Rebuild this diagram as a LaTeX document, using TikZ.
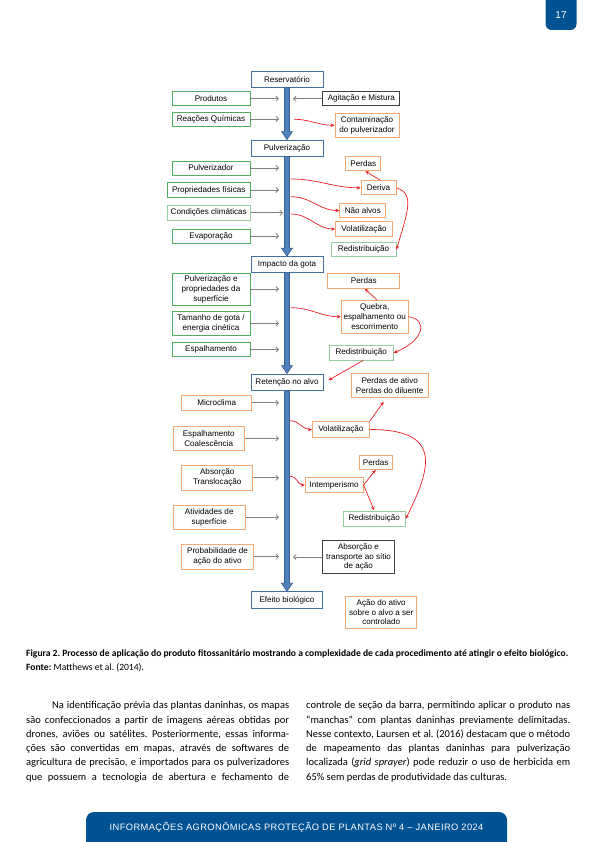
\documentclass[tikz,border=0pt]{standalone}
\usepackage{fontspec}
\setmainfont{Carlito}
\newfontfamily\arialf{Liberation Sans}
\usetikzlibrary{arrows.meta,calc}
\frenchspacing
\definecolor{pageblue}{RGB}{0,82,147}
\definecolor{boxblue}{RGB}{65,113,156}
\definecolor{shaftfill}{RGB}{79,129,189}
\definecolor{shaftdraw}{RGB}{56,93,138}
\definecolor{boxgreen}{RGB}{80,175,95}
\definecolor{boxlgreen}{RGB}{150,205,160}
\definecolor{boxorange}{RGB}{242,168,112}
\definecolor{boxgrey}{RGB}{64,64,64}
\definecolor{arrgrey}{RGB}{128,128,128}
\definecolor{arrred}{RGB}{232,30,36}
\newcommand\drawmainarrow[2]{%
  \path[shaft] let \p1=(#1.south), \p2=(#2.north) in
   (\x1-2.5pt,\y1) -- (\x1+2.5pt,\y1) -- (\x1+2.5pt,\y2+8pt) -- (\x1+5.5pt,\y2+8pt)
   -- (\x1,\y2) -- (\x1-5.5pt,\y2+8pt) -- (\x1-2.5pt,\y2+8pt) -- cycle;}
\begin{document}
\begin{tikzpicture}[x=1pt,y=-1pt,
  box/.style={draw, line width=0.8pt, fill=white, inner sep=1pt, align=center,
    font=\arialf\fontsize{8.1}{9.8}\selectfont, text=black},
  bbox/.style={box, draw=boxblue},
  gbox/.style={box, draw=boxgreen},
  lgbox/.style={box, draw=boxlgreen},
  obox/.style={box, draw=boxorange},
  kbox/.style={box, draw=boxgrey},
  sz/.style 2 args={minimum width=#1pt, minimum height=#2pt},
  garr/.style={draw=arrgrey, line width=0.8pt, -{Straight Barb[length=2.5pt,width=5pt]}},
  rarr/.style={draw=arrred, line width=0.7pt, -{Stealth[length=4pt,width=3.5pt]}},
  shaft/.style={fill=shaftfill, draw=shaftdraw, line width=0.6pt},
  bodyline/.style={anchor=base west, inner sep=0pt, font=\fontsize{10.5}{12}\selectfont},
]
\useasboundingbox (0,0) rectangle (595,842);

% page tab and footer
\path[fill=pageblue, rounded corners=6pt] (545.5,-10) rectangle (576.5,30);
\node[text=white, font=\arialf\fontsize{10}{12}\selectfont] (pnum) at (561,15) {17};
\path[fill=pageblue, rounded corners=8pt] (86,812) rectangle (507,852);
\node[text=white, font=\arialf\fontsize{9.3}{11}\selectfont\addfontfeature{LetterSpace=4.5}] (foot) at (296.5,827.5)
  {INFORMAÇÕES AGRONÔMICAS PROTEÇÃO DE PLANTAS Nº 4 – JANEIRO 2024};

% main column boxes
\node[bbox, sz={72}{16}] (res) at (287,79.5) {Reservatório};
\node[bbox, sz={72}{16}] (pulv) at (287,148) {Pulverização};
\node[bbox, sz={72}{16}] (imp) at (287,264.5) {Impacto da gota};
\node[bbox, sz={72}{16.7}] (ret) at (287,382.3) {Retenção no alvo};
\node[bbox, sz={71}{16.7}] (efe) at (287,600) {Efeito biológico};

\drawmainarrow{res}{pulv}
\drawmainarrow{pulv}{imp}
\drawmainarrow{imp}{ret}
\drawmainarrow{ret}{efe}

\coordinate (tipL) at (279,0);
\coordinate (tipLc) at (283,0);
\coordinate (tipR) at (293,0);

% Reservatorio section
\node[gbox, sz={78}{14}] (prod) at (211,98.7) {Produtos};
\node[kbox, sz={77}{14}] (agit) at (361.3,98.7) {Agitação e Mistura};
\node[gbox, sz={78}{14}] (reac) at (211,119) {Reações Químicas};
\node[obox, sz={64}{24}] (cont) at (367,125.3) {Contaminação\\do pulverizador};
\draw[garr] (prod.east) -- (prod.east -| tipL);
\draw[garr] (agit.west) -- (agit.west -| tipR);
\draw[garr] (reac.east) -- (reac.east -| tipL);
\coordinate (s1) at (294,119.3);
\draw[rarr] (s1) to[out=0,in=180] (cont.west);

% Pulverizacao section
\node[gbox, sz={78}{14}] (pz) at (211,168) {Pulverizador};
\node[gbox, sz={83}{15}] (pf) at (208.7,190) {Propriedades físicas};
\node[lgbox, sz={83}{15.7}] (cc) at (208.7,212.8) {Condições climáticas};
\node[gbox, sz={78}{14}] (ev) at (211,236) {Evaporação};
\draw[garr] (pz.east) -- (pz.east -| tipL);
\draw[garr] (pf.east) -- (pf.east -| tipL);
\draw[garr] (cc.east) -- (cc.east -| tipLc);
\draw[garr] (ev.east) -- (ev.east -| tipL);
\node[obox, sz={35}{14}] (perd1) at (363.3,163.7) {Perdas};
\node[obox, sz={35}{14}] (der) at (378.5,187.8) {Deriva};
\node[obox, sz={46}{14}] (nao) at (362.8,210.5) {Não alvos};
\node[obox, sz={57}{15}] (vol1) at (364,229) {Volatilização};
\node[lgbox, sz={65}{14}] (red1) at (363.5,249.7) {Redistribuição};
\coordinate (s2) at (291,179);
\coordinate (s3) at (291,196.7);
\coordinate (s4) at (291,214);
\draw[rarr] (s2) to[out=0,in=180] (der.west);
\draw[rarr] (s3) to[out=0,in=180] (nao.west);
\draw[rarr] (s4) to[out=0,in=180] (vol1.west);
\draw[rarr] ([xshift=2pt]der.north) -- ([xshift=2pt]perd1.south);
\draw[rarr] (der.east) .. controls +(18,6) and +(12,-40) .. (red1.east);

% Impacto section
\node[gbox, sz={78}{32}] (psup) at (211,289.2) {Pulverização e\\propriedades da\\superfície};
\node[gbox, sz={78}{23.3}] (tam) at (211,323.3) {Tamanho de gota /\\energia cinética};
\node[gbox, sz={78}{14.4}] (esp) at (211,349.5) {Espalhamento};
\draw[garr] (psup.east) -- (psup.east -| tipL);
\draw[garr] (tam.east) -- (tam.east -| tipL);
\draw[garr] (esp.east) -- (esp.east -| tipL);
\node[obox, sz={72}{15}] (perd2) at (363.8,280.8) {Perdas};
\node[obox, sz={67}{33}] (queb) at (374.7,316.7) {Quebra,\\espalhamento ou\\escorrimento};
\node[lgbox, sz={64}{14.4}] (red2) at (361.2,352.8) {Redistribuição};
\coordinate (s5) at (291,307.7);
\draw[rarr] (s5) to[out=0,in=180] (queb.west);
\draw[rarr] ([xshift=2pt]queb.north) -- ([xshift=1pt]perd2.south);
\draw[rarr] (queb.east) .. controls +(20,3) and +(30,-12) .. (red2.east);
\draw[rarr] ([xshift=2pt]red2.south) -- ($(ret.east)+(5,-2)$);

% Retencao section
\node[obox, sz={70}{15.7}] (micro) at (216.7,402.8) {Microclima};
\node[obox, sz={71}{24.7}] (espc) at (208.7,438.3) {Espalhamento\\Coalescência};
\node[obox, sz={71}{24.3}] (abs) at (217.2,477.8) {Absorção\\Translocação};
\node[obox, sz={72}{24.3}] (ativ) at (209.2,517.2) {Atividades de\\superfície};
\node[obox, sz={72}{24.7}] (prob) at (217.5,556.7) {Probabilidade de\\ação do ativo};
\node[kbox, sz={72}{32.7}] (abst) at (358.5,557) {Absorção e\\transporte ao sítio\\de ação};
\draw[garr] (micro.east) -- (micro.east -| tipL);
\draw[garr] (espc.east) -- (espc.east -| tipL);
\draw[garr] (abs.east) -- (abs.east -| tipL);
\draw[garr] (ativ.east) -- (ativ.east -| tipL);
\draw[garr] (prob.east) -- (prob.east -| tipL);
\draw[garr] (abst.west) -- (abst.west -| tipR);
\node[obox, sz={77}{24}] (pa) at (389.7,385.3) {Perdas de ativo\\Perdas do diluente};
\node[obox, sz={57}{15.7}] (vol2) at (340.8,429.5) {Volatilização};
\node[obox, sz={33}{14.3}] (perd3) at (375.7,462.2) {Perdas};
\node[obox, sz={58}{15.3}] (intem) at (334.2,485) {Intemperismo};
\node[lgbox, sz={62}{15.7}] (red3) at (374.2,518.8) {Redistribuição};
\node[obox, sz={71}{32.3}] (acao) at (381.2,612.2) {Ação do ativo\\sobre o alvo a ser\\controlado};
\coordinate (s6) at (290,420.7);
\coordinate (s7) at (290,476);
\draw[rarr] (s6) to[out=0,in=180] (vol2.west);
\draw[rarr] (s7) to[out=0,in=180] (intem.west);
\draw[rarr] (vol2.north east) -- ($(pa.south)+(-6,4)$);
\draw[rarr] (vol2.east) .. controls +(70,0) and +(28,-55) .. (red3.east);
\draw[rarr] (intem.east) -- (perd3.south);
\draw[rarr] (intem.east) -- (red3.north);

% caption
\node[anchor=base west, inner sep=0pt, font=\bfseries\fontsize{9.6}{11}\selectfont] (cap1) at (26,656)
  {\makebox[542pt][s]{Figura 2. Processo de aplicação do produto fitossanitário mostrando a complexidade de cada procedimento até atingir o efeito biológico.}};
\node[anchor=base west, inner sep=0pt, font=\fontsize{9.6}{11}\selectfont] (cap2) at (26,670)
  {\textbf{Fonte:} Matthews et al. (2014).};

% body text, left column
\node[bodyline] (l1) at (52,708.7) {\makebox[237pt][s]{Na identificação prévia das plantas daninhas, os mapas}};
\node[bodyline] (l2) at (26,723) {\makebox[263pt][s]{são confeccionados a partir de imagens aéreas obtidas por}};
\node[bodyline] (l3) at (26,737.3) {\makebox[263pt][s]{drones, aviões ou satélites. Posteriormente, essas informa-}};
\node[bodyline] (l4) at (26,751.6) {\makebox[263pt][s]{ções são convertidas em mapas, através de softwares de}};
\node[bodyline] (l5) at (26,765.9) {\makebox[263pt][s]{agricultura de precisão, e importados para os pulverizadores}};
\node[bodyline] (l6) at (26,780.2) {\makebox[263pt][s]{que possuem a tecnologia de abertura e fechamento de}};
% right column
\node[bodyline] (r1) at (306,708.7) {\makebox[264pt][s]{controle de seção da barra, permitindo aplicar o produto nas}};
\node[bodyline] (r2) at (306,723) {\makebox[264pt][s]{“manchas” com plantas daninhas previamente delimitadas.}};
\node[bodyline] (r3) at (306,737.3) {\makebox[264pt][s]{Nesse contexto, Laursen et al. (2016) destacam que o método}};
\node[bodyline] (r4) at (306,751.6) {\makebox[264pt][s]{de mapeamento das plantas daninhas para pulverização}};
\node[bodyline] (r5) at (306,765.9) {\makebox[264pt][s]{localizada (\textit{grid sprayer}) pode reduzir o uso de herbicida em}};
\node[bodyline] (r6) at (306,780.2) {65\% sem perdas de produtividade das culturas.};
\end{tikzpicture}
\end{document}
